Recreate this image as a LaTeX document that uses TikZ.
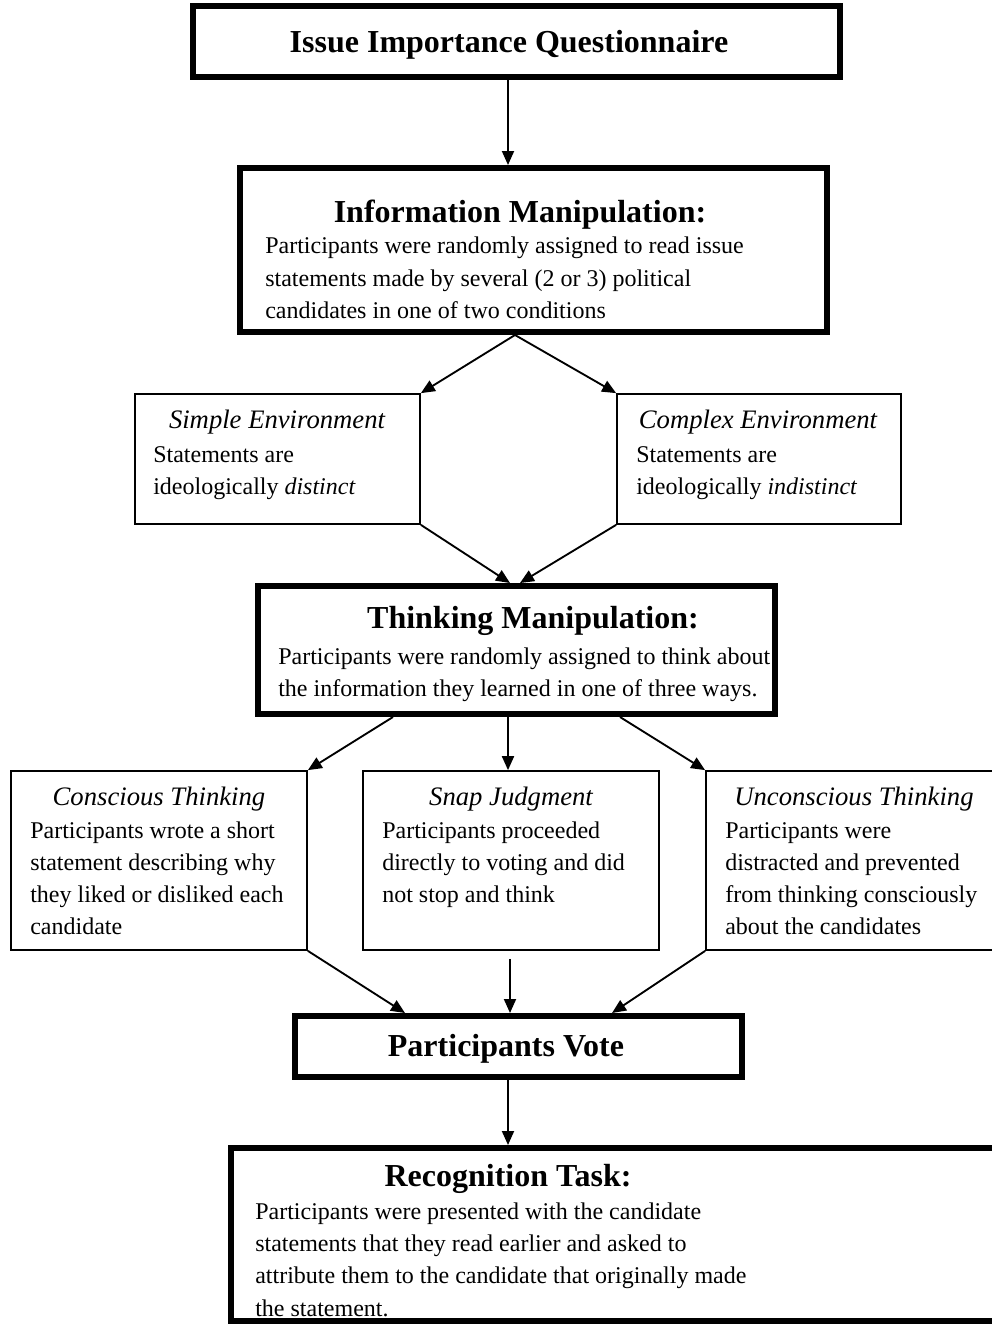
\documentclass[tikz,border=0pt]{standalone}
\usepackage{fontspec}
\setmainfont{Liberation Serif}
\usetikzlibrary{arrows.meta,fit,calc}
\tikzset{
  heavybox/.style={draw, line width=4.5pt, inner sep=0pt},
  lightbox/.style={draw, line width=1.3pt, inner sep=0pt},
  arr/.style={line width=1.4pt, -{Triangle[length=10.5pt,width=9pt]}},
  bigtitle/.style={anchor=base, inner sep=0pt, font=\fontsize{24}{28}\selectfont\bfseries},
  subtitle/.style={anchor=base, inner sep=0pt, font=\fontsize{20}{24}\selectfont\itshape},
  bodyline/.style={anchor=base west, inner sep=0pt, font=\fontsize{18}{22}\selectfont},
}
\begin{document}
\begin{tikzpicture}[x=0.75pt,y=-0.75pt]
\useasboundingbox (0,0) rectangle (992,1325);

% boxes
\node[heavybox, fit={(193,6) (840,77)}] (quest) {};
\node[heavybox, fit={(240,168) (827,332)}] (info) {};
\node[lightbox, fit={(135,394) (420,524)}] (simple) {};
\node[lightbox, fit={(617,394) (901,524)}] (complex) {};
\node[heavybox, fit={(258,586) (775,714)}] (think) {};
\node[lightbox, fit={(11,771) (307,950)}] (conscious) {};
\node[lightbox, fit={(363,771) (659,950)}] (snap) {};
\node[lightbox, fit={(706,771) (1010,950)}] (uncon) {};
\node[heavybox, fit={(295,1016) (742,1077)}] (vote) {};
\node[heavybox, fit={(231,1148) (1010,1321)}] (recog) {};

% texts
\node[bigtitle] (tq) at (509,52) {Issue Importance Questionnaire};

\node[bigtitle] (ti) at (520,222) {Information Manipulation:};
\node[bodyline] (i1) at (265,253) {Participants were randomly assigned to read issue};
\node[bodyline] (i2) at (265,286) {statements made by several (2 or 3) political};
\node[bodyline] (i3) at (265,318) {candidates in one of two conditions};

\node[subtitle] (ts) at (277,428) {Simple Environment};
\node[bodyline] (s1) at (153,462) {Statements are};
\node[bodyline] (s2) at (153,494) {ideologically \textit{distinct}};

\node[subtitle] (tc) at (758,428) {Complex Environment};
\node[bodyline] (c1) at (636,462) {Statements are};
\node[bodyline] (c2) at (636,494) {ideologically \textit{indistinct}};

\node[bigtitle] (tt) at (533,628) {Thinking Manipulation:};
\node[bodyline] (t1) at (278,664) {Participants were randomly assigned to think about};
\node[bodyline] (t2) at (278,696) {the information they learned in one of three ways.};

\node[subtitle] (tcs) at (159,805) {Conscious Thinking};
\node[bodyline] (cs1) at (30,838) {Participants wrote a short};
\node[bodyline] (cs2) at (30,870) {statement describing why};
\node[bodyline] (cs3) at (30,902) {they liked or disliked each};
\node[bodyline] (cs4) at (30,934) {candidate};

\node[subtitle] (tsn) at (511,805) {Snap Judgment};
\node[bodyline] (sn1) at (382,838) {Participants proceeded};
\node[bodyline] (sn2) at (382,870) {directly to voting and did};
\node[bodyline] (sn3) at (382,902) {not stop and think};

\node[subtitle] (tu) at (854,805) {Unconscious Thinking};
\node[bodyline] (u1) at (725,838) {Participants were};
\node[bodyline] (u2) at (725,870) {distracted and prevented};
\node[bodyline] (u3) at (725,902) {from thinking consciously};
\node[bodyline] (u4) at (725,934) {about the candidates};

\node[bigtitle] (tv) at (506,1056) {Participants Vote};

\node[bigtitle] (tr) at (508,1186) {Recognition Task:};
\node[bodyline] (r1) at (255,1219) {Participants were presented with the candidate};
\node[bodyline] (r2) at (255,1251) {statements that they read earlier and asked to};
\node[bodyline] (r3) at (255,1283) {attribute them to the candidate that originally made};
\node[bodyline] (r4) at (255,1316) {the statement.};

% connectors
\draw[arr] (508,0 |- quest.south) -- (508,0 |- info.north);
\draw[arr] (515,0 |- info.south) -- (simple.north east);
\draw[arr] (515,0 |- info.south) -- (complex.north west);
\draw[arr] (simple.south east) -- (510,0 |- think.north);
\draw[arr] (complex.south west) -- (520,0 |- think.north);
\draw[arr] (393,0 |- think.south) -- (conscious.north east);
\draw[arr] (508,0 |- think.south) -- (508,0 |- snap.north);
\draw[arr] (620,0 |- think.south) -- (uncon.north west);
\draw[arr] (conscious.south east) -- (405,0 |- vote.north);
\draw[arr] ([yshift=-6pt]510,0 |- snap.south) -- (510,0 |- vote.north);
\draw[arr] (uncon.south west) -- (612,0 |- vote.north);
\draw[arr] (508,0 |- vote.south) -- (508,0 |- recog.north);
\end{tikzpicture}
\end{document}
